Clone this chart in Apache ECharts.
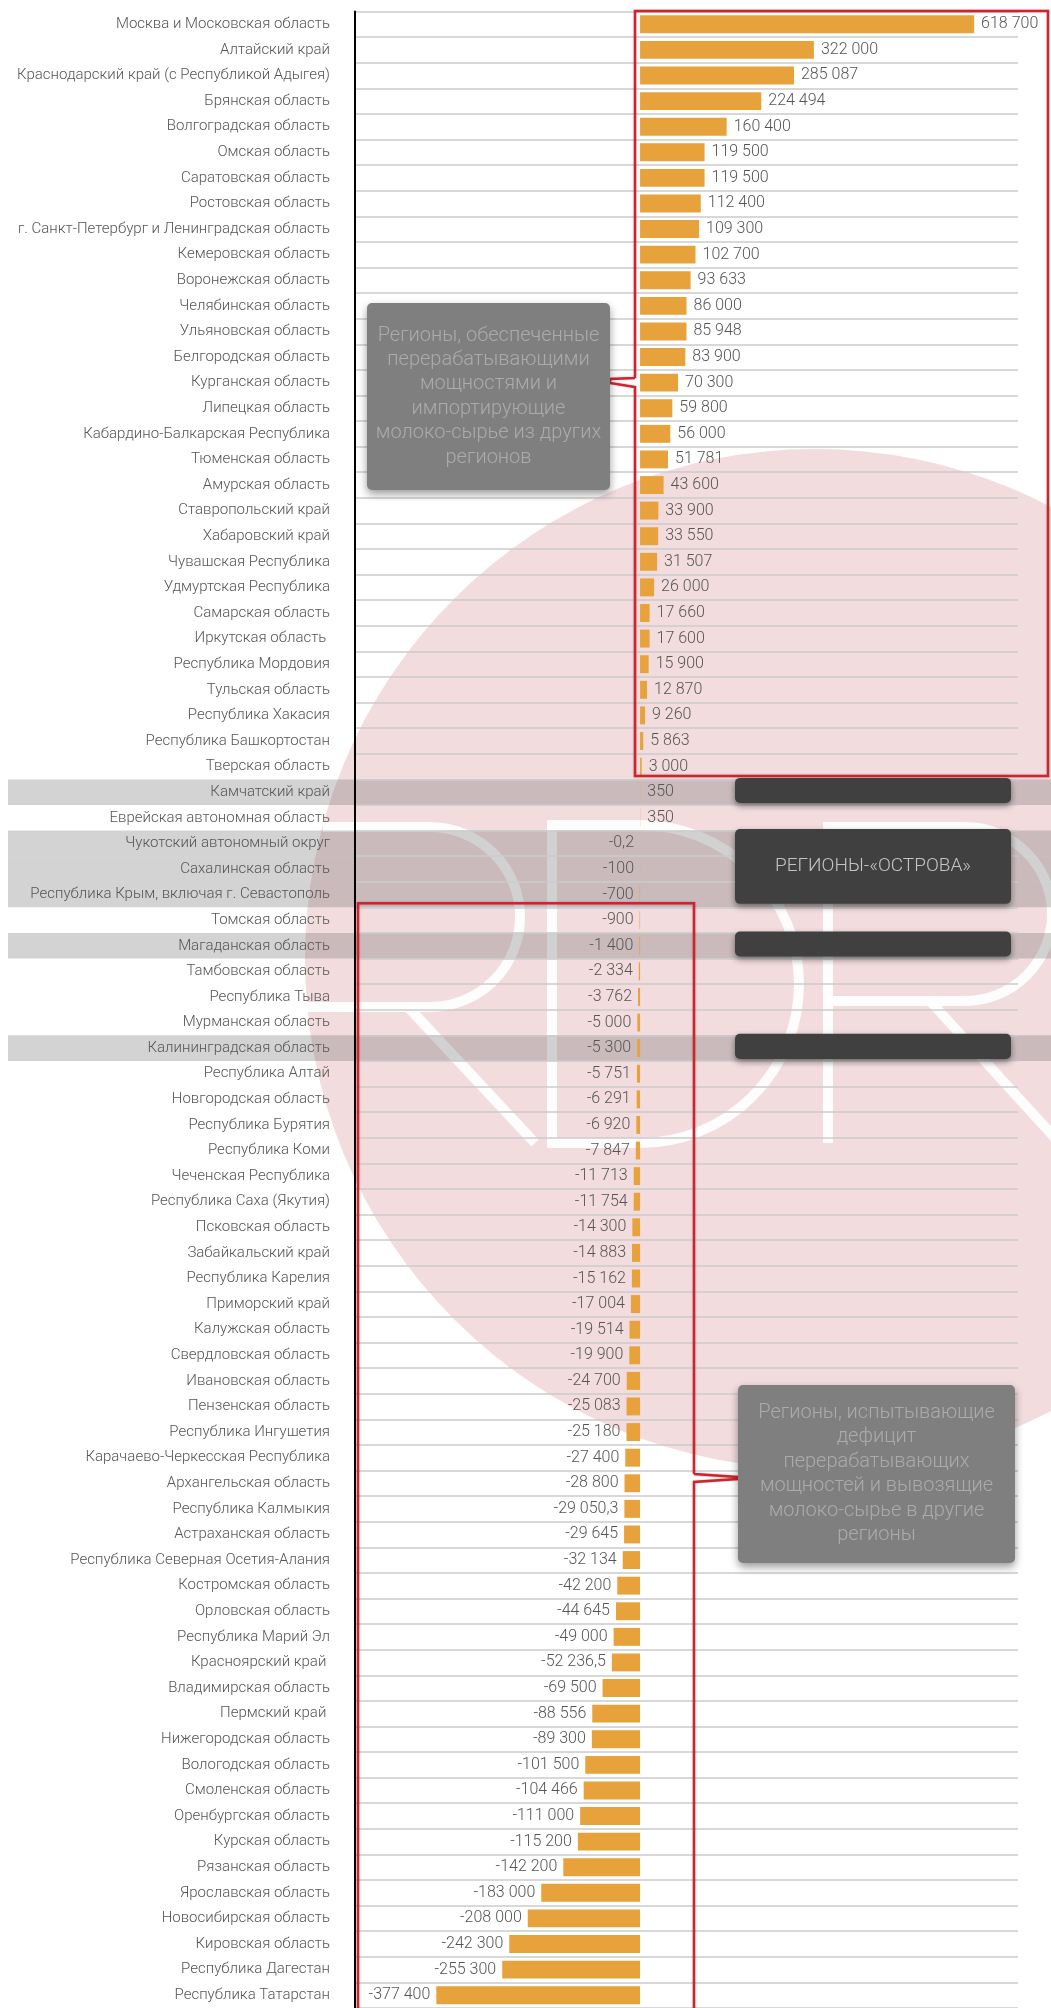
<!DOCTYPE html>
<html><head><meta charset="utf-8">
<script src="https://cdn.jsdelivr.net/npm/echarts@6/dist/echarts.min.js"></script>
<style>html,body{margin:0;padding:0;background:#fff}#c{width:1051px;height:2008px}</style>
</head><body><div id="c"></div>
<script>
const regions = [
'Москва и Московская область','Алтайский край','Краснодарский край (с Республикой Адыгея)','Брянская область','Волгоградская область',
'Омская область','Саратовская область','Ростовская область','г. Санкт-Петербург и Ленинградская область','Кемеровская область',
'Воронежская область','Челябинская область','Ульяновская область','Белгородская область','Курганская область',
'Липецкая область','Кабардино-Балкарская Республика','Тюменская область','Амурская область','Ставропольский край',
'Хабаровский край','Чувашская Республика','Удмуртская Республика','Самарская область','Иркутская область ',
'Республика Мордовия','Тульская область','Республика Хакасия','Республика Башкортостан','Тверская область',
'Камчатский край','Еврейская автономная область','Чукотский автономный округ','Сахалинская область','Республика Крым, включая г. Севастополь',
'Томская область','Магаданская область','Тамбовская область','Республика Тыва','Мурманская область',
'Калининградская область','Республика Алтай','Новгородская область','Республика Бурятия','Республика Коми',
'Чеченская Республика','Республика Саха (Якутия)','Псковская область','Забайкальский край','Республика Карелия',
'Приморский край','Калужская область','Свердловская область','Ивановская область','Пензенская область',
'Республика Ингушетия','Карачаево-Черкесская Республика','Архангельская область','Республика Калмыкия','Астраханская область',
'Республика Северная Осетия-Алания','Костромская область','Орловская область','Республика Марий Эл','Красноярский край ',
'Владимирская область','Пермский край ','Нижегородская область','Вологодская область','Смоленская область',
'Оренбургская область','Курская область','Рязанская область','Ярославская область','Новосибирская область',
'Кировская область','Республика Дагестан','Республика Татарстан'
];
const values = [
618700,322000,285087,224494,160400,
119500,119500,112400,109300,102700,
93633,86000,85948,83900,70300,
59800,56000,51781,43600,33900,
33550,31507,26000,17660,17600,
15900,12870,9260,5863,3000,
350,350,-0.2,-100,-700,
-900,-1400,-2334,-3762,-5000,
-5300,-5751,-6291,-6920,-7847,
-11713,-11754,-14300,-14883,-15162,
-17004,-19514,-19900,-24700,-25083,
-25180,-27400,-28800,-29050.3,-29645,
-32134,-42200,-44645,-49000,-52236.5,
-69500,-88556,-89300,-101500,-104466,
-111000,-115200,-142200,-183000,-208000,
-242300,-255300,-377400
];
const islandRows = ['Камчатский край','Чукотский автономный округ','Сахалинская область','Республика Крым, включая г. Севастополь','Магаданская область','Калининградская область'];
const islandBoxes = [['Камчатский край'],['Чукотский автономный округ','Республика Крым, включая г. Севастополь'],['Магаданская область'],['Калининградская область']];
const islandTitle = 'РЕГИОНЫ-«ОСТРОВА»';
const importText = 'Регионы, обеспеченные\nперерабатывающими\nмощностями и\nимпортирующие\nмолоко-сырье из других\nрегионов';
const exportText = 'Регионы, испытывающие\nдефицит\nперерабатывающих\nмощностей и вывозящие\nмолоко-сырье в другие\nрегионы';
const importGroup = ['Москва и Московская область','Тверская область'];
const exportGroup = ['Томская область','Республика Татарстан'];

function fmt(v){
  const neg = v < 0;
  const parts = String(Math.abs(v)).split('.');
  const i = parts[0].replace(/\B(?=(\d{3})+(?!\d))/g, ' ');
  return (neg ? '-' : '') + i + (parts[1] ? ',' + parts[1] : '');
}

const FONT = 'Roboto, "Liberation Sans", sans-serif';
const chart = echarts.init(document.getElementById('c'), null, {renderer:'canvas'});
const option = {
  animation: false,
  backgroundColor: '#ffffff',
  grid: {left: 355, top: 11.5, width: 663, height: 2008},
  xAxis: {type: 'value', min: -528000, max: 700000, show: false},
  yAxis: {
    type: 'category', data: regions, inverse: true,
    axisLine: {show: true, onZero: false, lineStyle: {color: '#000', width: 2}},
    axisTick: {show: false},
    axisLabel: {interval: 0, margin: 25, fontSize: 15, color: '#555', fontFamily: FONT, fontWeight: 300},
    splitLine: {show: true, interval: 0, lineStyle: {color: '#cbcbcb', width: 1.5}}
  },
  series: [{
    type: 'bar',
    barWidth: '70%',
    itemStyle: {color: '#e8a23c'},
    label: {show: true, fontSize: 16, color: '#555', fontFamily: FONT, fontWeight: 300,
      formatter: p => fmt(p.value)},
    data: values.map(v => ({value: v, label: {position: v < 0 ? 'left' : 'right', distance: v < 0 ? 6 : 7}}))
  }]
};
chart.setOption(option);

const yc = name => chart.convertToPixel({yAxisIndex: 0}, name);
const bandH = yc(regions[1]) - yc(regions[0]);
const bandTop = name => yc(name) - bandH / 2;

const red = '#d2232d';
const g = [];
g.push({type: 'circle', silent: true, z: -3, shape: {cx: 815, cy: 959, r: 510}, style: {fill: '#f2dcde'}});
const ls = {stroke: 'rgba(255,255,255,0.92)', lineWidth: 10, fill: null};
const L = (pts) => ({type: 'polyline', silent: true, z: -2, shape: {points: pts}, style: ls});
const A = (cx, cy, r) => ({type: 'arc', silent: true, z: -2, shape: {cx, cy, r, startAngle: -Math.PI/2, endAngle: Math.PI/2, clockwise: true}, style: ls});
g.push(L([[323,827],[430,827]]), A(430,917,90), L([[430,1007],[307,1007]]), L([[408,1007],[535,1143]]));
g.push(L([[640,825],[552,825],[552,1143],[640,1143]]), A(640,984,159));
g.push(L([[828,1143],[828,827],[965,827]]), A(965,914,87), L([[965,1001],[828,1001]]), L([[930,1001],[1075,1160]]));
islandRows.forEach(n => g.push({type: 'rect', silent: true, z: -1, shape: {x: 8, y: bandTop(n), width: 1043, height: bandH}, style: {fill: 'rgba(110,110,110,0.3)'}}));
islandBoxes.forEach((grp) => {
  const y0 = bandTop(grp[0]) - 1.5;
  const h = grp.length === 1 ? bandH - 0.5 : (bandTop(grp[grp.length - 1]) + bandH - 3.5) - y0;
  g.push({type: 'rect', silent: true, z: 10, shape: {x: 735, y: y0, width: 276, height: h, r: 5},
    style: {fill: '#404040', shadowBlur: 6, shadowOffsetY: 3, shadowColor: 'rgba(0,0,0,0.45)'}});
  if (grp.length > 1) {
    g.push({type: 'text', silent: true, z: 11, style: {text: islandTitle, x: 873, y: y0 + h / 2, align: 'center', verticalAlign: 'middle',
      fill: '#c4c4c4', font: '300 19px ' + FONT}});
  }
});
const aTop = bandTop(importGroup[0]) - 0.5, aBot = bandTop(importGroup[1]) + bandH - 3.5;
g.push({type: 'polyline', silent: true, z: 9, shape: {points: [[635,378],[635,aTop],[1048,aTop],[1048,aBot],[635,aBot],[635,387],[610,383],[610,379],[635,378]]},
  style: {stroke: red, lineWidth: 2.5, fill: null, shadowBlur: 2, shadowColor: 'rgba(0,0,0,0.25)'}});
const bTop = bandTop(exportGroup[0]) - 4, bBot = bandTop(exportGroup[1]) + bandH + 30;
g.push({type: 'polyline', silent: true, z: 9, shape: {points: [[694,1474],[694,bTop],[358,bTop],[358,bBot],[694,bBot],[694,1482],[737,1479],[737,1477],[694,1474]]},
  style: {stroke: red, lineWidth: 2.5, fill: null, shadowBlur: 2, shadowColor: 'rgba(0,0,0,0.25)'}});
const callout = (x, y, w, h, txt) => {
  g.push({type: 'rect', silent: true, z: 12, shape: {x, y, width: w, height: h, r: 5},
    style: {fill: '#7f7f7f', shadowBlur: 8, shadowOffsetY: 4, shadowColor: 'rgba(0,0,0,0.4)'}});
  g.push({type: 'text', silent: true, z: 13, style: {text: txt, x: x + w / 2, y: y + h / 2, align: 'center', verticalAlign: 'middle',
    fill: '#ababab', font: '300 20px ' + FONT, lineHeight: 24.4}});
};
callout(367, 303, 243, 187, importText);
callout(738, 1385, 277, 178, exportText);

chart.setOption({graphic: {elements: g}});
</script>
</body></html>
